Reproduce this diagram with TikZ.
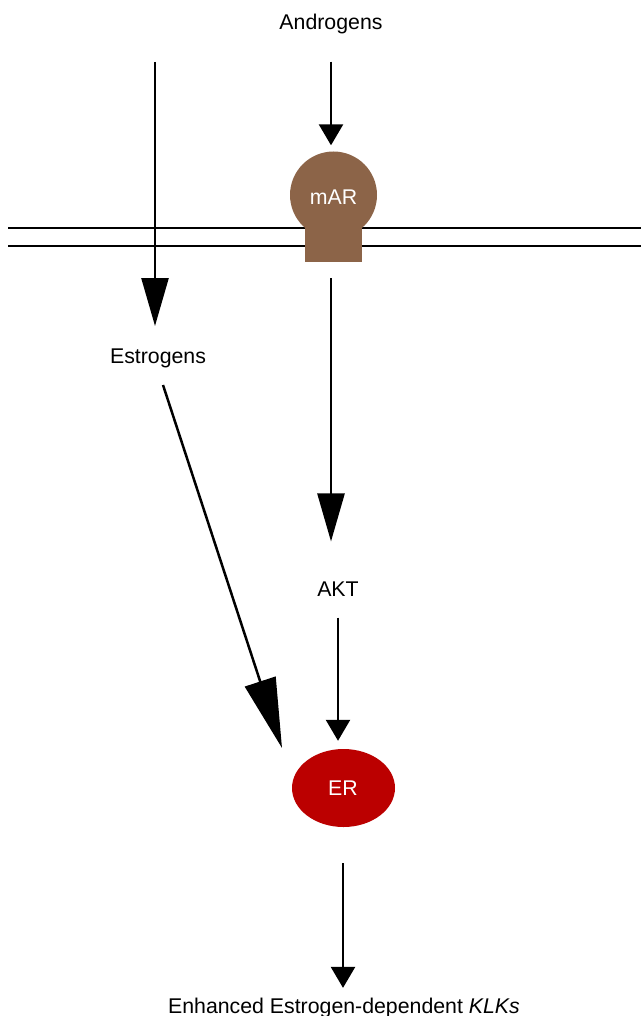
\documentclass[tikz,border=0pt]{standalone}
\usepackage{fontspec}
\setmainfont{Liberation Sans}
\usetikzlibrary{arrows.meta,shapes.geometric}
\definecolor{marbrown}{RGB}{140,100,72}
\definecolor{erred}{RGB}{187,0,0}
\tikzset{
  lbl/.style={inner sep=0pt, font=\fontsize{21.3}{25}\selectfont},
  shaft/.style={line width=2.5pt},
  smallhead/.style={shaft, -{Triangle[length=21pt,width=24pt]}},
  bighead/.style={shaft, -{Triangle[length=48pt,width=27pt]}},
  hugehead/.style={shaft, -{Triangle[length=70pt,width=32pt]}},
  membrane/.style={line width=2pt},
}
\begin{document}
\begin{tikzpicture}[x=1pt,y=-1pt]
\useasboundingbox (0,0) rectangle (641,1016);
% membrane
\draw[membrane] (8,228) -- (641,228);
\draw[membrane] (8,246) -- (641,246);
% mAR receptor
\node[circle, fill=marbrown, minimum size=87pt, inner sep=0pt] (marc) at (333.5,195) {};
\node[rectangle, fill=marbrown, minimum width=57pt, minimum height=45pt, inner sep=0pt, anchor=south] (mars) at (333.5,262) {};
\node[lbl, text=white] (mar) at (333.5,197) {mAR};
% ER
\node[ellipse, fill=erred, minimum width=103pt, minimum height=78pt, inner sep=0pt] (er) at (343.5,788) {};
\node[lbl, text=white] (ert) at (343,788.5) {ER};
% labels
\node[lbl] (andro) at (331,23.5) {Androgens};
\node[lbl] (estro) at (158,358.5) {Estrogens};
\node[lbl] (akt) at (338,589) {AKT};
\node[lbl] (klks) at (344,1008) {Enhanced Estrogen-dependent \textit{KLKs}};
% connectors
\coordinate (lstart) at (155,62);
\coordinate (estroOut) at (163,385);
\coordinate (erIn) at (282,748);
\draw[smallhead, shorten <=28pt, shorten >=6pt] (andro.south) -- (andro.south |- marc.north);
\draw[bighead] (lstart) -- (155,326);
\draw[bighead, shorten <=16pt, shorten >=40pt] (mars.south -| andro.south) -- (akt.north -| andro.south);
\draw[smallhead, shorten <=21pt, shorten >=8pt] (akt.south) -- (akt.south |- er.north);
\draw[hugehead] (estroOut) -- (erIn);
\draw[smallhead, shorten <=36pt, shorten >=10pt] (er.south -| 343,0) -- (klks.north -| 343,0);
\end{tikzpicture}
\end{document}
